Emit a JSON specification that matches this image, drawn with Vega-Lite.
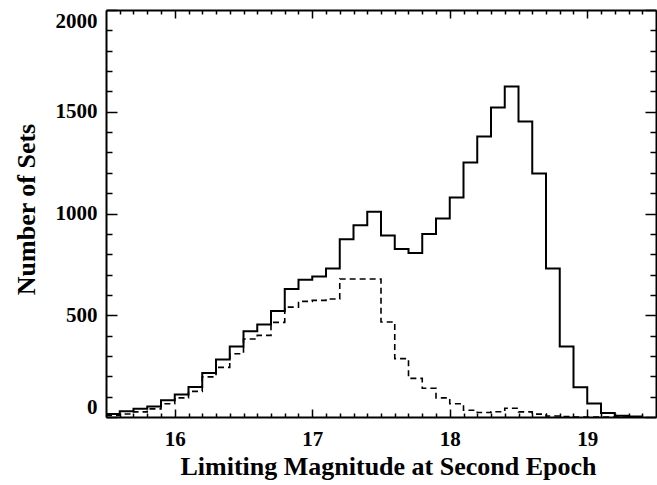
{
  "$schema": "https://vega.github.io/schema/vega-lite/v6.json",
  "width": 550,
  "height": 407,
  "autosize": {"type": "none"},
  "padding": {"left": 106, "top": 10, "right": 1, "bottom": 68},
  "background": "white",
  "config": {
    "view": {"stroke": null},
    "axis": {
      "domainColor": "black",
      "domainWidth": 2,
      "tickColor": "black",
      "tickWidth": 1.5,
      "grid": false,
      "labelFont": "Liberation Serif",
      "labelFontWeight": "bold",
      "labelFontSize": 21,
      "labelColor": "black",
      "labelFlush": false,
      "labelOverlap": false,
      "titleFont": "Liberation Serif",
      "titleFontWeight": "bold",
      "titleFontSize": 26,
      "titleColor": "black"
    }
  },
  "data": {
    "values": [
      {"mag": 15.5, "all": 15, "sub": 8},
      {"mag": 15.6, "all": 28, "sub": 15},
      {"mag": 15.7, "all": 40, "sub": 25},
      {"mag": 15.8, "all": 52, "sub": 40},
      {"mag": 15.9, "all": 82, "sub": 65},
      {"mag": 16.0, "all": 110, "sub": 94},
      {"mag": 16.1, "all": 148, "sub": 126},
      {"mag": 16.2, "all": 216, "sub": 197},
      {"mag": 16.3, "all": 282, "sub": 244},
      {"mag": 16.4, "all": 347, "sub": 311},
      {"mag": 16.5, "all": 421, "sub": 383},
      {"mag": 16.6, "all": 455, "sub": 401},
      {"mag": 16.7, "all": 521, "sub": 465},
      {"mag": 16.8, "all": 629, "sub": 540},
      {"mag": 16.9, "all": 675, "sub": 568},
      {"mag": 17.0, "all": 691, "sub": 573},
      {"mag": 17.1, "all": 730, "sub": 580},
      {"mag": 17.2, "all": 874, "sub": 678},
      {"mag": 17.3, "all": 942, "sub": 678},
      {"mag": 17.4, "all": 1008, "sub": 678},
      {"mag": 17.5, "all": 892, "sub": 467},
      {"mag": 17.6, "all": 825, "sub": 287},
      {"mag": 17.7, "all": 806, "sub": 190},
      {"mag": 17.8, "all": 899, "sub": 141},
      {"mag": 17.9, "all": 975, "sub": 94},
      {"mag": 18.0, "all": 1079, "sub": 65},
      {"mag": 18.1, "all": 1251, "sub": 33},
      {"mag": 18.2, "all": 1378, "sub": 22},
      {"mag": 18.3, "all": 1521, "sub": 26},
      {"mag": 18.4, "all": 1624, "sub": 43},
      {"mag": 18.5, "all": 1452, "sub": 25},
      {"mag": 18.6, "all": 1197, "sub": 14},
      {"mag": 18.7, "all": 730, "sub": 5},
      {"mag": 18.8, "all": 347, "sub": 2},
      {"mag": 18.9, "all": 146, "sub": 0},
      {"mag": 19.0, "all": 66, "sub": 0},
      {"mag": 19.1, "all": 20, "sub": 0},
      {"mag": 19.2, "all": 6, "sub": 0},
      {"mag": 19.3, "all": 2, "sub": 0},
      {"mag": 19.4, "all": 0, "sub": 0}
    ]
  },
  "resolve": {"axis": {"x": "independent", "y": "independent"}},
  "layer": [
    {
      "mark": {"type": "line", "interpolate": "step-after", "color": "black", "strokeWidth": 2, "clip": true},
      "encoding": {
        "x": {
          "field": "mag", "type": "quantitative",
          "scale": {"domain": [15.5, 19.5], "nice": false, "zero": false},
          "axis": {
            "orient": "bottom",
            "values": [15.6,15.7,15.8,15.9,16,16.1,16.2,16.3,16.4,16.5,16.6,16.7,16.8,16.9,17,17.1,17.2,17.3,17.4,17.5,17.6,17.7,17.8,17.9,18,18.1,18.2,18.3,18.4,18.5,18.6,18.7,18.8,18.9,19,19.1,19.2,19.3,19.4],
            "labelExpr": "abs(datum.value - round(datum.value)) < 0.001 ? format(datum.value, 'd') : ''",
            "tickSize": {"condition": {"test": "abs(datum.value - round(datum.value)) < 0.001", "value": -8}, "value": -4},
            "labelPadding": 19,
            "title": "Limiting Magnitude at Second Epoch",
            "titleX": 282,
            "titlePadding": 0
          }
        },
        "y": {
          "field": "all", "type": "quantitative",
          "scale": {"domain": [0, 2000], "nice": false},
          "axis": {
            "orient": "left",
            "values": [0,100,200,300,400,500,600,700,800,900,1000,1100,1200,1300,1400,1500,1600,1700,1800,1900,2000],
            "labelExpr": "datum.value % 500 === 0 ? format(datum.value, 'd') : ''",
            "tickSize": {"condition": {"test": "datum.value % 500 === 0", "value": -11}, "value": -6},
            "labelPadding": 20,
            "labelFlush": true,
            "labelFlushOffset": 0,
            "title": "Number of Sets",
            "titleY": 199,
            "titlePadding": 16
          }
        }
      }
    },
    {
      "mark": {"type": "line", "interpolate": "step-after", "color": "black", "strokeWidth": 1.6, "strokeDash": [6, 4], "clip": true},
      "encoding": {
        "x": {
          "field": "mag", "type": "quantitative",
          "axis": {
            "orient": "top",
            "values": [15.6,15.7,15.8,15.9,16,16.1,16.2,16.3,16.4,16.5,16.6,16.7,16.8,16.9,17,17.1,17.2,17.3,17.4,17.5,17.6,17.7,17.8,17.9,18,18.1,18.2,18.3,18.4,18.5,18.6,18.7,18.8,18.9,19,19.1,19.2,19.3,19.4],
            "labels": false,
            "tickSize": {"condition": {"test": "abs(datum.value - round(datum.value)) < 0.001", "value": -8}, "value": -4},
            "title": null
          }
        },
        "y": {
          "field": "sub", "type": "quantitative",
          "axis": {
            "orient": "right",
            "values": [0,100,200,300,400,500,600,700,800,900,1000,1100,1200,1300,1400,1500,1600,1700,1800,1900,2000],
            "labels": false,
            "tickSize": {"condition": {"test": "datum.value % 500 === 0", "value": -11}, "value": -6},
            "title": null
          }
        }
      }
    }
  ]
}
